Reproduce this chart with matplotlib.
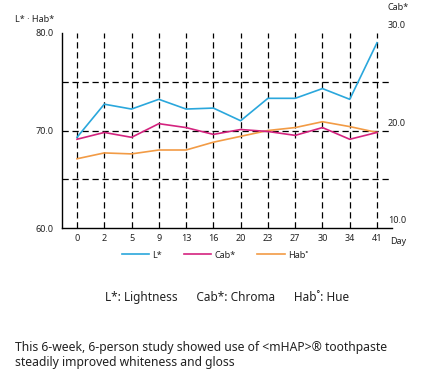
import matplotlib
matplotlib.use("Agg")
import matplotlib.pyplot as plt
import matplotlib.transforms as mtransforms

plt.rcParams['font.family'] = ['Noto Sans', 'DejaVu Sans']

days = ["0", "2", "5", "9", "13", "16", "20", "23", "27", "30", "34", "41"]
L_star = [69.3, 72.7, 72.2, 73.2, 72.2, 72.3, 71.0, 73.3, 73.3, 74.3, 73.2, 79.0]
Cab_star = [19.1, 19.8, 19.3, 20.7, 20.3, 19.6, 20.1, 19.9, 19.5, 20.3, 19.1, 19.8]
Hab_star = [67.1, 67.7, 67.6, 68.0, 68.0, 68.8, 69.4, 70.0, 70.3, 70.9, 70.4, 69.8]

left_ticks = [60, 70, 80]
right_ticks = [10, 20, 30]

c_L = "#2aa7dc"
c_C = "#d4237f"
c_H = "#f29b45"

fig = plt.figure(figsize=(4.31, 3.84), dpi=100)
ax = fig.add_axes([62/431, 1-228/384, 330/431, 195/384])
ax2 = ax.twinx()

x = list(range(len(days)))

# grid
for xi in x:
    ax.axvline(xi, color="black", lw=0.9, ls=(0, (5, 3)), zorder=1)
for yv in [65, 70, 75]:
    ax.axhline(yv, color="black", lw=0.9, ls=(0, (5, 3)), zorder=1)

ax.plot(x, L_star, color=c_L, lw=1.2, label="L*", zorder=3)
ax2.plot(x, Cab_star, color=c_C, lw=1.2, label="Cab*", zorder=3)
ax.plot(x, Hab_star, color=c_H, lw=1.2, label="Hab˚", zorder=3)

ax.set_xlim(-0.55, len(days) - 0.45)
ax.set_ylim(60, 80)
ax2.set_ylim(10, 30)

for a in (ax, ax2):
    for s in ("top", "right"):
        a.spines[s].set_visible(False)
ax2.spines["left"].set_visible(False)
ax2.spines["bottom"].set_visible(False)
ax.spines["left"].set_linewidth(1.0)
ax.spines["bottom"].set_linewidth(1.0)

ax.set_xticks(x)
ax.set_xticklabels(days)
ax.set_yticks(left_ticks)
ax.set_yticklabels([f"{v:.1f}" for v in left_ticks])
ax.tick_params(axis="both", length=0, labelsize=6.5, colors="#222222", pad=4)
ax.tick_params(axis="y", pad=6)
ax2.set_yticks(right_ticks)
ax2.set_yticklabels([f"{v:.1f}" for v in right_ticks])
ax2.tick_params(axis="y", length=0, labelsize=6.5, colors="#222222", pad=-3)
offset = mtransforms.ScaledTranslation(0, 2/72, fig.dpi_scale_trans)
for lab in ax2.get_yticklabels():
    lab.set_va("bottom")
    lab.set_transform(lab.get_transform() + offset)

fig.text(15/431, 1-20/384, "L* · Hab*", fontsize=6.5, va="center", ha="left", color="#222222")
fig.text(388/431, 1-7/384, "Cab*", fontsize=6.5, va="center", ha="left", color="#222222")
fig.text(390/431, 1-241/384, "Day", fontsize=6.5, va="center", ha="left", color="#222222")

h1, l1 = ax.get_legend_handles_labels()
h2, l2 = ax2.get_legend_handles_labels()
handles = [h1[0], h2[0], h1[1]]
labels = [l1[0], l2[0], l1[1]]
fig.legend(handles, labels, loc="center", bbox_to_anchor=(215/431, 1-255/384), ncol=3,
           frameon=False, fontsize=6.5, handlelength=3.0, handletextpad=0.4, columnspacing=2.4,
           labelcolor="#222222")

fig.text(227/431, 1-297/384, "L*: Lightness      Cab*: Chroma      Hab˚: Hue",
         fontsize=8.5, ha="center", va="center", color="#222222")
fig.text(15/431, 1-355/384,
         "This 6-week, 6-person study showed use of <mHAP>® toothpaste\nsteadily improved whiteness and gloss",
         fontsize=8.75, ha="left", va="center", color="#222222", linespacing=1.25)

fig.savefig("out.png", dpi=100)
